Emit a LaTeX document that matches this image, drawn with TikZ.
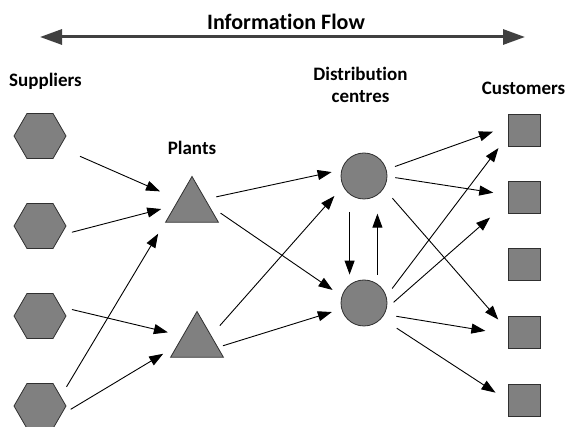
\documentclass[tikz,border=0pt]{standalone}
\usepackage{fontspec}
\setmainfont{Carlito}[Ligatures=NoCommon]
\usetikzlibrary{shapes.geometric,arrows.meta}
\definecolor{shapegray}{HTML}{808080}
\definecolor{edgegray}{HTML}{303030}
\definecolor{infogray}{HTML}{404040}
\tikzset{
  unit/.style={fill=shapegray,draw=edgegray,line width=.8pt,inner sep=0pt},
  supplier/.style={unit,regular polygon,regular polygon sides=6,minimum size=52pt},
  plant/.style={unit,regular polygon,regular polygon sides=3,minimum size=61pt},
  centre/.style={unit,circle,minimum size=46pt},
  customer/.style={unit,rectangle,minimum size=32pt},
  label/.style={font=\fontsize{19}{22}\selectfont\bfseries,anchor=base,align=center,inner sep=0pt},
  flow/.style={line width=.9pt,-{Triangle[length=14pt,width=10pt]}},
  infoarrow/.style={line width=3pt,infogray,{Triangle[length=22pt,width=15pt]}-{Triangle[length=22pt,width=15pt]}}
}
\begin{document}
\begin{tikzpicture}[x=1pt,y=-1pt]
  \useasboundingbox (0,0) rectangle (565,427);
  % information flow
  \node[label,font=\fontsize{22}{26}\selectfont\bfseries] (info) at (286,30) {Information Flow};
  \coordinate (infoL) at (40,37);
  \coordinate (infoR) at (525,37);
  \draw[infoarrow] (infoL) -- (infoR);
  % stages
  \foreach \i/\y in {1/136,2/226,3/316,4/406}
  \node[supplier] (s\i) at (40,\y) {};
  \node[plant] (p1) at (192,207) {};
  \node[plant] (p2) at (197,342) {};
  \node[centre] (d1) at (364,176) {};
  \node[centre] (d2) at (364,303) {};
  \foreach \i/\y in {1/130,2/197,3/264,4/332,5/400}
  \node[customer] (c\i) at (524.5,\y) {};
  % titles
  \node[label] (suplab) at (45.5,87) {Suppliers};
  \node[label] (plantlab) at (192,155) {Plants};
  \node[label] (dclab) at (360.5,103) {Distribution\\centres};
  \node[label] (custlab) at (523.5,95) {Customers};
  % material flow
  \foreach \a/\b/\s/\t in {s1.-30/p1.151/22/20, s2.-23/p1.175/11/14,
      s4.25/p1.202/11/20, s3.23/p2.157/11/15, s4.-23/p2.190/11/16,
      p1.30/d1.165/11/10, p1.6/d2.163/14/11, p2.25/d1.206/13/13,
      p2.-14/d2.195/5/10, d1.232/d2.128/17.5/10, d2.55/d1.-55/9/18.5,
      d1.16/c1.167/9/16, d1.-1/c2.173/8/15, d1.-32/c4.176/13/15,
      d2.17/c1.198/9.5/16, d2.-13/c2.196/9/24, d2.-29/c4.189/12/23,
      d2.-41/c5.183/18/15}
  \draw[flow,shorten <=\s pt,shorten >=\t pt] (\a) -- (\b);
\end{tikzpicture}
\end{document}
